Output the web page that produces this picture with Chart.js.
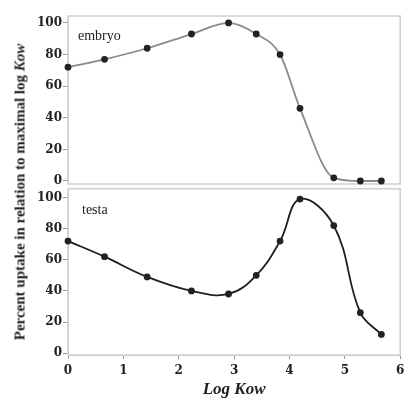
<!DOCTYPE html>
<html>
<head>
<meta charset="utf-8">
<script src="https://cdn.jsdelivr.net/npm/chart.js@4.4.1/dist/chart.umd.min.js"></script>
<style>
  html, body { margin: 0; padding: 0; background: #fff; }
  #wrap { position: relative; width: 406px; height: 402px; overflow: hidden; font-family: "Liberation Serif", serif; color: #222; }
  #topBox { position: absolute; left: 0; top: 0; width: 406px; height: 190px; }
  #botBox { position: absolute; left: 0; top: 183px; width: 406px; height: 219px; }
  .ytitle { position: absolute; left: 20px; top: 192px; transform: translate(-50%, -50%) rotate(-90deg); white-space: nowrap; font-weight: bold; font-size: 15px; }
  .lbl { position: absolute; font-size: 14px; }
</style>
</head>
<body>
<div id="wrap">
  <div id="topBox"><canvas id="topChart"></canvas></div>
  <div id="botBox"><canvas id="botChart"></canvas></div>
  <div class="ytitle">Percent uptake in relation to maximal log <i>Kow</i></div>
  <div class="lbl" style="left:78px; top:28px;">embryo</div>
  <div class="lbl" style="left:82px; top:202px;">testa</div>
</div>
<script>
// data
const logKow = [0, 0.66, 1.43, 2.23, 2.9, 3.4, 3.83, 4.19, 4.8, 5.28, 5.66];
const embryo = [72, 77, 84, 93, 100, 93, 80, 46, 2, 0, 0];
const testa  = [72, 62, 49, 40, 38, 50, 72, 99, 82, 26, 12];
const yTicks = [0, 20, 40, 60, 80, 100];
const xTicks = [0, 1, 2, 3, 4, 5, 6];

const tickFont = { family: "DejaVu Serif", size: 12, weight: "bold" };
const boxGrey = "#cfcfcf";

// light grey box around each panel
const frame = {
  id: "frame",
  beforeDatasetsDraw(c) {
    const a = c.chartArea, ctx = c.ctx;
    ctx.save();
    ctx.strokeStyle = boxGrey;
    ctx.lineWidth = 1.5;
    ctx.strokeRect(a.left, a.top, a.right - a.left, a.bottom - a.top);
    ctx.restore();
  }
};

function pts(ys) {
  return logKow.map((x, i) => ({ x: x, y: ys[i] }));
}

function yScale(min, max) {
  return {
    min: min,
    max: max,
    afterBuildTicks: s => { s.ticks = yTicks.map(v => ({ value: v })); },
    afterFit: s => { s.width = 38; s.paddingTop = 0; s.paddingBottom = 0; },
    border: { color: boxGrey },
    grid: { drawOnChartArea: false, tickLength: 5, color: "#999" },
    ticks: { font: tickFont, color: "#222", padding: 1 }
  };
}

function panel(id, ys, lineColor, curve, yMin, yMax, showX, pad) {
  return new Chart(document.getElementById(id), {
    type: "line",
    data: {
      datasets: [Object.assign({
        data: pts(ys),
        borderColor: lineColor,
        borderWidth: 1.8,
        pointRadius: 2.5,
        pointBackgroundColor: "#222",
        pointBorderColor: "#222",
        clip: false
      }, curve)]
    },
    options: {
      responsive: true,
      maintainAspectRatio: false,
      animation: false,
      layout: { padding: pad },
      plugins: { legend: { display: false }, tooltip: { enabled: false } },
      scales: {
        x: {
          type: "linear",
          min: 0,
          max: 6,
          display: showX,
          afterBuildTicks: s => { s.ticks = xTicks.map(v => ({ value: v })); },
          afterFit: s => { if (showX) s.height = 47; s.paddingLeft = 0; s.paddingRight = 0; },
          border: { color: boxGrey },
          grid: { drawOnChartArea: false, tickLength: 4, color: "#999" },
          ticks: { font: tickFont, color: "#222", padding: 5 },
          title: {
            display: true,
            text: "Log Kow",
            color: "#222",
            font: { family: "Liberation Serif", size: 17, weight: "bold", style: "italic" },
            padding: { top: 2, bottom: 2 }
          }
        },
        y: yScale(yMin, yMax)
      }
    },
    plugins: [frame]
  });
}

panel("topChart", embryo, "#8a8a8a", { cubicInterpolationMode: "monotone" },
  -1.9, 104.4, false, { left: 30, top: 16, right: 3, bottom: 6 });
panel("botChart", testa, "#1e1e1e", { tension: 0.4 },
  -1.2, 105.6, true, { left: 30, top: 1, right: 3, bottom: 0 });
</script>
</body>
</html>
